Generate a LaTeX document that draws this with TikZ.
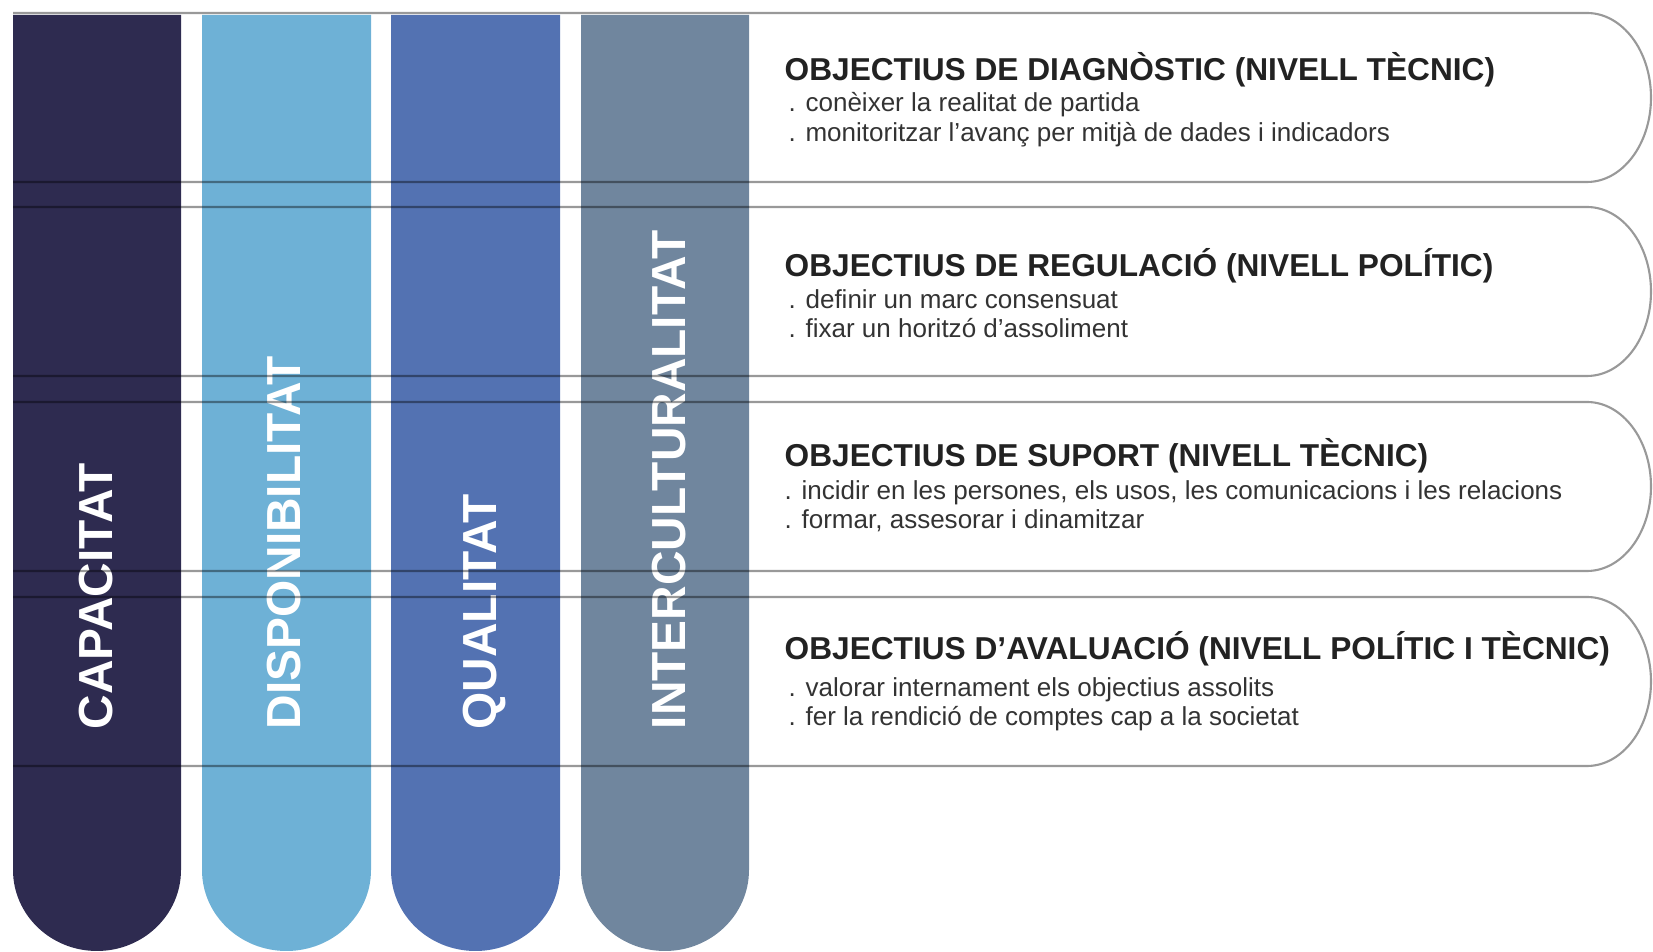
\documentclass[tikz,border=0pt]{standalone}
\usepackage{fontspec}
\setmainfont{Liberation Sans}
\definecolor{capcol}{RGB}{46,43,80}
\definecolor{dispcol}{RGB}{110,177,214}
\definecolor{qualcol}{RGB}{83,114,178}
\definecolor{intercol}{RGB}{112,134,158}
\definecolor{titlecol}{RGB}{34,34,34}
\definecolor{bodycol}{RGB}{51,51,51}
\begin{document}
\begin{tikzpicture}[x=0.01cm, y=-0.01cm,
    col_label/.style={rotate=90, anchor=base west, inner sep=0pt, text=white, font=\fontsize{13.6}{16}\selectfont\bfseries},
    obj_line/.style={draw=black, draw opacity=0.4, line width=0.6pt},
    obj_title/.style={anchor=base west, inner sep=0pt, text=titlecol, font=\fontsize{9}{11}\selectfont\bfseries},
    obj_text/.style={anchor=base west, inner sep=0pt, text=bodycol, font=\fontsize{7.4}{9}\selectfont}]
    \useasboundingbox (0,0) rectangle (1653,952);
    % columns
    \fill[capcol] (13,15) -- (13,870) arc[start angle=180, end angle=0, x radius=84, y radius=81] -- (181,15) -- cycle;
    \fill[dispcol] (202,15) -- (202,870) arc[start angle=180, end angle=0, x radius=84.5, y radius=81] -- (371,15) -- cycle;
    \fill[qualcol] (391,15) -- (391,870) arc[start angle=180, end angle=0, x radius=84.5, y radius=81] -- (560,15) -- cycle;
    \fill[intercol] (581,15) -- (581,870) arc[start angle=180, end angle=0, x radius=84, y radius=81] -- (749,15) -- cycle;
    \node[col_label] (1) at (113, 730) {CAPACITAT};
    \node[col_label] (2) at (300, 730) {DISPONIBILITAT};
    \node[col_label] (3) at (496, 730) {QUALITAT};
    \node[col_label] (4) at (685, 730) {INTERCULTURALITAT};
    % objective boxes
    \draw[obj_line] (13,13) -- (1587,13) arc[start angle=-90, end angle=90, x radius=64, y radius=84.5] -- (13,182);
    \draw[obj_line] (13,207) -- (1587,207) arc[start angle=-90, end angle=90, x radius=64, y radius=84.5] -- (13,376);
    \draw[obj_line] (13,402) -- (1587,402) arc[start angle=-90, end angle=90, x radius=64, y radius=84.5] -- (13,571);
    \draw[obj_line] (13,597) -- (1587,597) arc[start angle=-90, end angle=90, x radius=64, y radius=84.5] -- (13,766);
    % texts
    \node[obj_title] (t1) at (784, 81) {OBJECTIUS DE DIAGNÒSTIC (NIVELL TÈCNIC)};
    \node[obj_text] (t1a) at (788, 112) {. conèixer la realitat de partida};
    \node[obj_text] (t1b) at (788, 142) {. monitoritzar l’avanç per mitjà de dades i indicadors};
    \node[obj_title] (t2) at (784, 277) {OBJECTIUS DE REGULACIÓ (NIVELL POLÍTIC)};
    \node[obj_text] (t2a) at (788, 309) {. definir un marc consensuat};
    \node[obj_text] (t2b) at (788, 338) {. fixar un horitzó d’assoliment};
    \node[obj_title] (t3) at (784, 467) {OBJECTIUS DE SUPORT (NIVELL TÈCNIC)};
    \node[obj_text] (t3a) at (784, 500) {. incidir en les persones, els usos, les comunicacions i les relacions};
    \node[obj_text] (t3b) at (784, 529) {. formar, assesorar i dinamitzar};
    \node[obj_title] (t4) at (784, 660) {OBJECTIUS D’AVALUACIÓ (NIVELL POLÍTIC I TÈCNIC)};
    \node[obj_text] (t4a) at (788, 697) {. valorar internament els objectius assolits};
    \node[obj_text] (t4b) at (788, 726) {. fer la rendició de comptes cap a la societat};
\end{tikzpicture}
\end{document}
